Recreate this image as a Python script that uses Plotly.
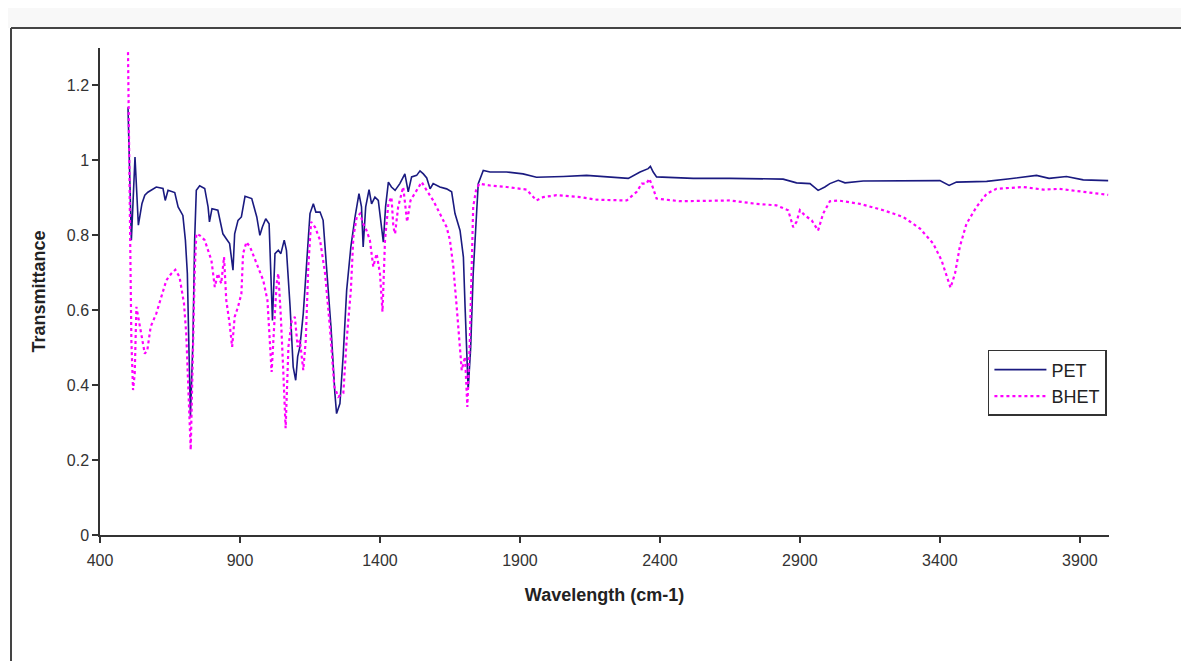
import plotly.graph_objects as go

# ---- data ----
pet_wn = [500, 512, 525, 537, 550, 560, 571, 601, 625, 633, 643, 667, 679, 696, 705, 712, 717, 723,
          732, 738, 744, 756, 774, 786, 791, 800, 821, 839, 851, 863, 875, 881, 893, 905, 918, 942,
          960, 971, 980, 992, 1004, 1013, 1016, 1025, 1037, 1046, 1058, 1066, 1079, 1090, 1099, 1106,
          1114, 1126, 1138, 1150, 1162, 1171, 1186, 1197, 1209, 1225, 1239, 1245, 1257, 1269, 1281,
          1296, 1311, 1325, 1334, 1340, 1349, 1361, 1370, 1382, 1394, 1404, 1412, 1420, 1430, 1441,
          1454, 1471, 1489, 1501, 1513, 1531, 1543, 1555, 1567, 1579, 1590, 1614, 1638, 1656, 1668,
          1686, 1698, 1704, 1709, 1715, 1724, 1733, 1743, 1751, 1769, 1793, 1852, 1911, 1959, 1983,
          2055, 2138, 2233, 2287, 2329, 2358, 2366, 2376, 2388, 2519, 2650, 2840, 2888, 2936, 2965,
          2989, 3007, 3037, 3061, 3126, 3400, 3433, 3459, 3567, 3650, 3700, 3745, 3790, 3852, 3912, 4001]
pet_t = [1.142, 0.787, 1.009, 0.827, 0.885, 0.907, 0.915, 0.929, 0.925, 0.893, 0.92, 0.914, 0.876,
         0.853, 0.787, 0.698, 0.52, 0.316, 0.52, 0.787, 0.92, 0.932, 0.925, 0.876, 0.836, 0.871, 0.867,
         0.804, 0.791, 0.778, 0.707, 0.804, 0.84, 0.849, 0.904, 0.898, 0.849, 0.8, 0.822, 0.844, 0.831,
         0.671, 0.573, 0.751, 0.76, 0.751, 0.787, 0.76, 0.609, 0.449, 0.413, 0.476, 0.502, 0.591, 0.716,
         0.858, 0.884, 0.862, 0.862, 0.84, 0.716, 0.556, 0.378, 0.324, 0.351, 0.484, 0.653, 0.769, 0.849,
         0.911, 0.876, 0.769, 0.876, 0.922, 0.884, 0.902, 0.893, 0.831, 0.782, 0.876, 0.942, 0.929, 0.92,
         0.938, 0.964, 0.916, 0.956, 0.96, 0.972, 0.964, 0.953, 0.924, 0.938, 0.929, 0.924, 0.916, 0.858,
         0.813, 0.742, 0.609, 0.484, 0.387, 0.5, 0.698, 0.831, 0.938, 0.973, 0.969, 0.969, 0.964, 0.955,
         0.956, 0.957, 0.96, 0.955, 0.952, 0.969, 0.978, 0.984, 0.969, 0.956, 0.952, 0.952, 0.95, 0.94,
         0.938, 0.92, 0.929, 0.938, 0.947, 0.94, 0.945, 0.946, 0.933, 0.942, 0.944, 0.951, 0.955, 0.96,
         0.952, 0.957, 0.948, 0.946]

bhet_wn = [500, 504, 507, 512, 518, 524, 530, 536, 548, 560, 569, 581, 601, 619, 637, 655, 669, 684,
           700, 708, 714, 724, 732, 738, 744, 756, 774, 798, 810, 821, 833, 843, 851, 863, 872, 881,
           893, 905, 911, 923, 936, 960, 983, 998, 1007, 1013, 1022, 1031, 1037, 1046, 1055, 1063,
           1073, 1085, 1096, 1106, 1114, 1126, 1135, 1144, 1154, 1168, 1186, 1204, 1221, 1237, 1251,
           1269, 1281, 1296, 1305, 1317, 1329, 1340, 1352, 1364, 1376, 1388, 1400, 1409, 1418, 1430,
           1441, 1448, 1454, 1465, 1483, 1497, 1509, 1531, 1549, 1567, 1590, 1614, 1638, 1650, 1662,
           1674, 1686, 1692, 1704, 1712, 1721, 1727, 1733, 1743, 1755, 1793, 1852, 1924, 1948, 1959,
           1983, 2031, 2114, 2174, 2281, 2317, 2335, 2352, 2362, 2374, 2388, 2471, 2650, 2745, 2816,
           2858, 2876, 2888, 2900, 2918, 2942, 2965, 2983, 3007, 3037, 3114, 3198, 3269, 3329, 3376,
           3406, 3424, 3438, 3454, 3471, 3495, 3531, 3567, 3602, 3698, 3769, 3826, 3912, 4001]
bhet_t = [1.289, 1.05, 0.787, 0.52, 0.387, 0.431, 0.609, 0.582, 0.538, 0.484, 0.493, 0.556, 0.591,
          0.636, 0.68, 0.698, 0.708, 0.689, 0.618, 0.538, 0.431, 0.227, 0.493, 0.698, 0.804, 0.8, 0.787,
          0.733, 0.662, 0.698, 0.671, 0.742, 0.627, 0.564, 0.502, 0.582, 0.609, 0.644, 0.751, 0.782,
          0.769, 0.724, 0.68, 0.627, 0.52, 0.435, 0.556, 0.671, 0.698, 0.582, 0.431, 0.285, 0.502, 0.573,
          0.582, 0.502, 0.52, 0.44, 0.52, 0.716, 0.836, 0.822, 0.787, 0.698, 0.556, 0.396, 0.369, 0.378,
          0.52, 0.653, 0.796, 0.849, 0.858, 0.831, 0.813, 0.787, 0.716, 0.751, 0.698, 0.596, 0.787, 0.884,
          0.902, 0.822, 0.804, 0.876, 0.929, 0.836, 0.893, 0.92, 0.942, 0.92, 0.893, 0.858, 0.822, 0.787,
          0.716, 0.609, 0.502, 0.44, 0.476, 0.342, 0.52, 0.698, 0.876, 0.92, 0.938, 0.933, 0.929, 0.922,
          0.902, 0.893, 0.902, 0.907, 0.902, 0.895, 0.893, 0.916, 0.938, 0.938, 0.951, 0.929, 0.898,
          0.891, 0.893, 0.884, 0.88, 0.867, 0.822, 0.836, 0.867, 0.853, 0.84, 0.813, 0.858, 0.891, 0.893,
          0.884, 0.867, 0.849, 0.818, 0.778, 0.733, 0.689, 0.66, 0.698, 0.769, 0.831, 0.876, 0.911, 0.924,
          0.929, 0.922, 0.924, 0.916, 0.908]

x_ticks = [400, 900, 1400, 1900, 2400, 2900, 3400, 3900]
y_ticks = [0, 0.2, 0.4, 0.6, 0.8, 1, 1.2]
y_labels = ["0", "0.2", "0.4", "0.6", "0.8", "1", "1.2"]

FONT = "Liberation Sans, Arial, Helvetica, sans-serif"
AXIS = "#333333"

fig = go.Figure()
fig.add_trace(go.Scatter(x=pet_wn, y=pet_t, mode="lines", name="PET",
                         line=dict(color="#1a1a80", width=1.6)))
fig.add_trace(go.Scatter(x=bhet_wn, y=bhet_t, mode="lines", name="BHET",
                         line=dict(color="#ff00ff", width=2.2, dash="dot")))

# the page adds an 8px body margin, so the figure is sized/offset to compensate
fig.update_layout(
    width=1181, height=653,
    margin=dict(l=92, r=80, t=40, b=126),
    paper_bgcolor="white", plot_bgcolor="white",
    font=dict(family=FONT, color=AXIS, size=16),
    showlegend=True,
    legend=dict(x=0.880, y=0.38, xanchor="left", yanchor="top",
                bgcolor="white", bordercolor=AXIS, borderwidth=1.5,
                font=dict(size=18, color="#222222"), itemwidth=52,
                tracegroupgap=0),
    xaxis=dict(range=[400, 4004], tickvals=x_ticks, ticktext=[str(v) for v in x_ticks],
               showgrid=False, zeroline=False, showline=True, linecolor=AXIS, linewidth=1.5,
               ticks="outside", ticklen=6, tickwidth=1.5, tickcolor=AXIS,
               ticklabelstandoff=4,
               tickfont=dict(size=16, color=AXIS),
               title=dict(text="<b>Wavelength (cm-1)</b>", font=dict(size=18, color="#222222"),
                          standoff=20)),
    yaxis=dict(range=[0, 1.3], tickvals=y_ticks, ticktext=y_labels,
               showgrid=False, zeroline=False, showline=True, linecolor=AXIS, linewidth=1.5,
               ticks="outside", ticklen=6, tickwidth=1.5, tickcolor=AXIS,
               tickfont=dict(size=16, color=AXIS),
               title=dict(text="<b>Transmittance</b>", font=dict(size=18, color="#222222"),
                          standoff=16)),
    shapes=[
        dict(type="rect", xref="paper", yref="paper", x0=-0.1, x1=1.1, y0=1.041, y1=1.2,
             fillcolor="#f8f8f8", line=dict(width=0), layer="below"),
        dict(type="line", xref="paper", yref="paper", x0=-0.0882, x1=1.1, y0=1.041, y1=1.041,
             line=dict(color="#444444", width=2)),
        dict(type="line", xref="paper", yref="paper", x0=-0.0882, x1=-0.0882, y0=1.041, y1=-0.3,
             line=dict(color="#444444", width=2)),
    ],
)

fig.write_html("out.html")
